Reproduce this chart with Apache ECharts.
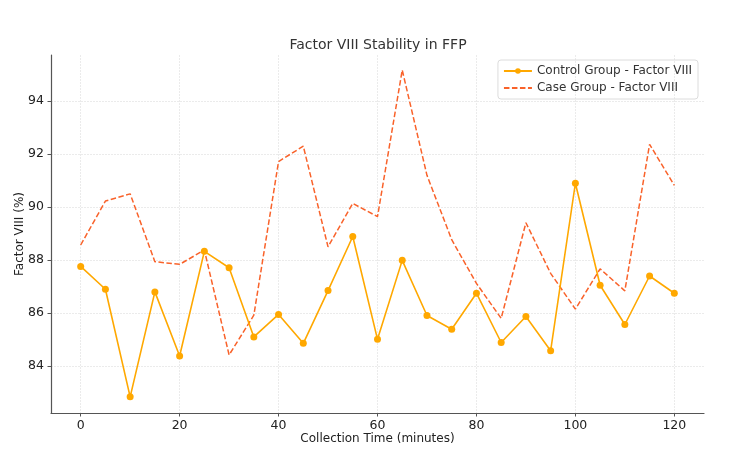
<!DOCTYPE html>
<html>
<head>
<meta charset="utf-8">
<script src="https://cdn.jsdelivr.net/npm/echarts@6/dist/echarts.min.js"></script>
<style>
  html, body { margin: 0; padding: 0; background: #fff; }
  #chart { width: 734px; height: 467px; }
</style>
</head>
<body>
<div id="chart"></div>
<script>
// collection time, minutes
const times = [0, 5, 10, 15, 20, 25, 30, 35, 40, 45, 50, 55, 60, 65, 70, 75, 80, 85, 90, 95, 100, 105, 110, 115, 120]

// Factor VIII (%)
const controlValues = [87.76, 86.9, 82.84, 86.8, 84.38, 88.33, 87.71, 85.1, 85.95, 84.86, 86.85, 88.89, 85.01,
  87.99, 85.91, 85.39, 86.75, 84.89, 85.87, 84.58, 90.9, 87.05, 85.57, 87.4, 86.75]
const caseValues = [88.57, 90.23, 90.5, 87.94, 87.84, 88.38, 84.42, 85.92, 91.72, 92.3, 88.5, 90.14, 89.64,
  95.17, 91.2, 88.77, 87.12, 85.8, 89.41, 87.5, 86.15, 87.67, 86.84, 92.37, 90.82]

const xTicks = [0, 20, 40, 60, 80, 100, 120]
const yTicks = [84, 86, 88, 90, 92, 94]

const FONT = 'DejaVu Sans'
const CONTROL_COLOR = '#FFA800'
const CASE_COLOR = '#F9622A'

const chart = echarts.init(document.getElementById('chart'))

const axisCommon = {
  axisLine: { onZero: false, lineStyle: { color: '#555', width: 1.2 } },
  axisTick: { show: true, length: 3.5, lineStyle: { color: '#555' } },
  axisLabel: { color: '#222', fontFamily: FONT, fontSize: 12.5 },
  splitLine: { show: true, lineStyle: { color: '#ebebeb', width: 1, type: [2, 1] } },
  nameTextStyle: { color: '#222', fontFamily: FONT, fontSize: 12 },
  nameMoveOverlap: false,
}

chart.setOption({
  animation: false,
  backgroundColor: '#fff',
  title: {
    text: 'Factor VIII Stability in FFP',
    left: 373,
    textAlign: 'center',
    top: 33,
    textStyle: { color: '#333', fontFamily: FONT, fontSize: 14, fontWeight: 'normal' },
  },
  legend: {
    orient: 'vertical',
    right: 36,
    top: 60,
    padding: [5, 6, 5, 5],
    itemGap: 5,
    itemWidth: 28,
    itemHeight: 7,
    borderColor: '#dcdcdc',
    borderWidth: 1,
    borderRadius: 3,
    textStyle: { color: '#333', fontFamily: FONT, fontSize: 12 },
    data: [
      { name: 'Control Group - Factor VIII' },
      { name: 'Case Group - Factor VIII', itemStyle: { opacity: 0 } },
    ],
  },
  grid: { left: 51, right: 30, top: 55, bottom: 54, outerBoundsMode: 'none' },
  xAxis: {
    ...axisCommon,
    type: 'value',
    min: -6,
    max: 126,
    name: 'Collection Time (minutes)',
    nameLocation: 'middle',
    nameGap: 20,
    axisLabel: { ...axisCommon.axisLabel, customValues: xTicks, margin: 6 },
    axisTick: { ...axisCommon.axisTick, customValues: xTicks },
  },
  yAxis: {
    ...axisCommon,
    type: 'value',
    min: 82.23,
    max: 95.74,
    name: 'Factor VIII (%)',
    nameLocation: 'middle',
    nameGap: 25,
    axisLabel: { ...axisCommon.axisLabel, customValues: yTicks, margin: 7 },
    axisTick: { ...axisCommon.axisTick, customValues: yTicks },
  },
  series: [
    {
      name: 'Control Group - Factor VIII',
      type: 'line',
      data: times.map((t, i) => [t, controlValues[i]]),
      symbol: 'circle',
      symbolSize: 7,
      itemStyle: { color: CONTROL_COLOR },
      lineStyle: { color: CONTROL_COLOR, width: 1.6 },
      z: 3,
    },
    {
      name: 'Case Group - Factor VIII',
      type: 'line',
      data: times.map((t, i) => [t, caseValues[i]]),
      symbol: 'circle',
      showSymbol: false,
      itemStyle: { color: CASE_COLOR },
      lineStyle: { color: CASE_COLOR, width: 1.5, type: [5.5, 2.5] },
      z: 2,
    },
  ],
})
</script>
</body>
</html>
